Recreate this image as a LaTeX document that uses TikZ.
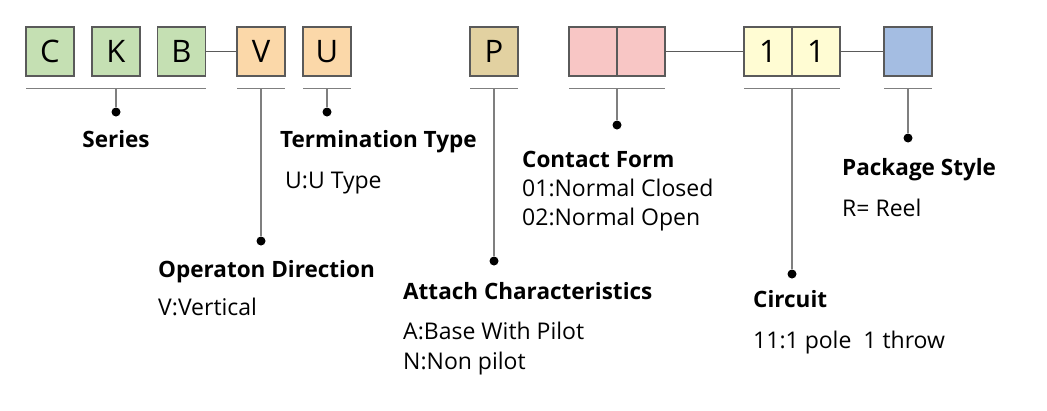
\documentclass[tikz,border=0pt]{standalone}
\usepackage{fontspec}
\setmainfont{Open Sans}
\usepackage{xcolor}
\usepackage{tikz}
\definecolor{gseries}{HTML}{C5E0B3}
\definecolor{oterm}{HTML}{FBD8A9}
\definecolor{pattach}{HTML}{E2D1A1}
\definecolor{rcontact}{HTML}{F8C6C5}
\definecolor{ycircuit}{HTML}{FFFCD3}
\definecolor{bpack}{HTML}{A4BDE2}
\definecolor{edge}{HTML}{5A5A5A}
\definecolor{stem}{HTML}{7F7F7F}
\tikzset{
  code/.style={draw=edge, line width=1.2pt, minimum width=48pt, minimum height=49pt,
    inner sep=0pt, font=\fontsize{31}{31}\selectfont},
  head/.style={anchor=base west, inner sep=0pt, font=\bfseries\fontsize{22.5}{24}\selectfont},
  desc/.style={anchor=base west, inner sep=0pt, font=\fontsize{23}{24}\selectfont},
  dot/.style={circle, fill=black, minimum size=9pt, inner sep=0pt},
  under/.style={draw=stem, line width=1.1pt}
}
\begin{document}
\begin{tikzpicture}[x=1pt, y=-1pt]
\useasboundingbox (0,0) rectangle (1047,410);
\node[code, fill=gseries] (c) at (50,51.5) {C};
\node[code, fill=gseries] (k) at (116,51.5) {K};
\node[code, fill=gseries] (b) at (181.5,51.5) {B};
\node[code, fill=oterm] (v) at (261,51.5) {V};
\node[code, fill=oterm] (u) at (327,51.5) {U};
\node[code, fill=pattach] (p) at (494,51.5) {P};
\node[code, fill=rcontact] (cf1) at (593,51.5) {};
\node[code, fill=rcontact] (cf2) at (641,51.5) {};
\node[code, fill=ycircuit] (ci1) at (768,51.5) {1};
\node[code, fill=ycircuit] (ci2) at (816,51.5) {1};
\node[code, fill=bpack] (ps) at (908,51.5) {};
\draw[edge, line width=1.1pt] (b.east) -- (v.west);
\draw[edge, line width=1.1pt] (cf2.east) -- (ci1.west);
\draw[edge, line width=1.1pt] (ci2.east) -- (ps.west);
% underlines
\draw[under] (26,88.5) -- (206,88.5) coordinate[midway] (sr);
\draw[under] (237,88.5) -- (285,88.5) coordinate[midway] (vr);
\draw[under] (303,88.5) -- (351,88.5) coordinate[midway] (ur);
\draw[under] (470,88.5) -- (518,88.5) coordinate[midway] (pr);
\draw[under] (569,88.5) -- (665,88.5) coordinate[midway] (cfr);
\draw[under] (744,88.5) -- (840,88.5) coordinate[midway] (cir);
\draw[under] (884,88.5) -- (932,88.5) coordinate[midway] (psr);
% dots
\node[dot] (sd) at (116,112) {};
\node[dot] (ud) at (327,112) {};
\node[dot] (vd) at (261,241) {};
\node[dot] (pd) at (494,261) {};
\node[dot] (cfd) at (617,125) {};
\node[dot] (cid) at (792,274) {};
\node[dot] (psd) at (908,138) {};
\draw[under] (sr) -- (sd);
\draw[under] (ur) -- (ud);
\draw[under] (vr) -- (vd);
\draw[under] (pr) -- (pd);
\draw[under] (cfr) -- (cfd);
\draw[under] (cir) -- (cid);
\draw[under] (psr) -- (psd);
% labels
\node[head, anchor=base] (st) at (116,147.5) {Series};
\node[head] (ut) at (280,147.5) {Termination Type};
\node[desc] (ux) at (285,188) {U:U Type};
\node[head] (vt) at (158,277.5) {Operaton Direction};
\node[desc] (vx) at (158,315) {V:Vertical};
\node[head] (pt) at (403,299.5) {Attach Characteristics};
\node[desc] (px1) at (403,339) {A:Base With Pilot};
\node[desc] (px2) at (403,369) {N:Non pilot};
\node[head] (cft) at (522,167.5) {Contact Form};
\node[desc] (cfx1) at (522,196) {01:Normal Closed};
\node[desc] (cfx2) at (522,225) {02:Normal Open};
\node[head] (cit) at (753,307.5) {Circuit};
\node[desc] (cix) at (753,348) {11:1 pole\ \ 1 throw};
\node[head] (pst) at (842,175.5) {Package Style};
\node[desc] (psx) at (842,216) {R= Reel};
\end{tikzpicture}
\end{document}
